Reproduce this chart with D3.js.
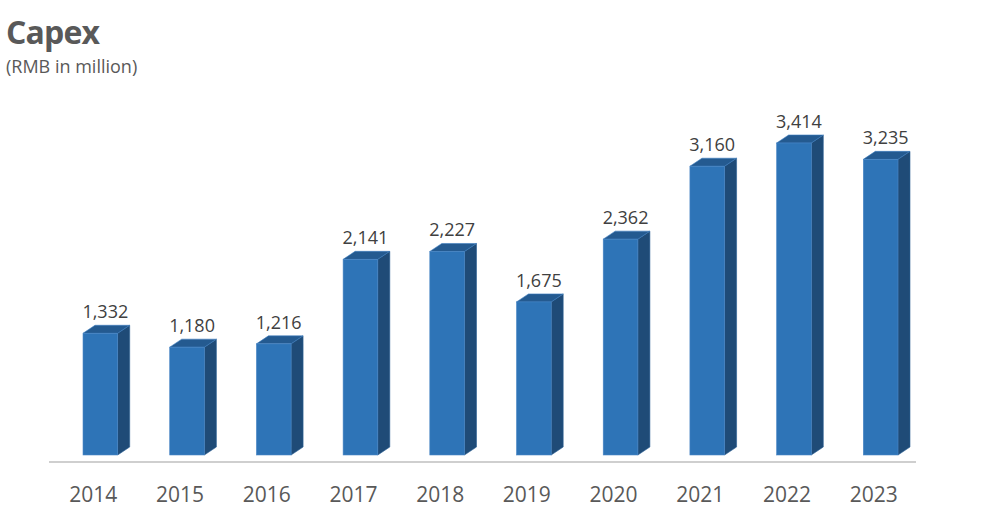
<!DOCTYPE html>
<html>
<head>
<meta charset="utf-8">
<script src="https://cdn.jsdelivr.net/npm/d3@7"></script>
<style>
  body { margin: 0; background: #fff; }
  svg { display: block; font-family: "Open Sans", sans-serif; }
</style>
</head>
<body>
<svg id="chart" width="998" height="525"></svg>
<script>
// data
var years = ["2014", "2015", "2016", "2017", "2018", "2019", "2020", "2021", "2022", "2023"];
var capex = [1332, 1180, 1216, 2141, 2227, 1675, 2362, 3160, 3414, 3235];

var svg = d3.select("#chart");

// title
svg.append("text").attr("x", 6).attr("y", 44)
  .attr("font-size", 32).attr("font-weight", "bold").attr("fill", "#595959")
  .attr("textLength", 94)
  .text("Capex");
svg.append("text").attr("x", 6).attr("y", 73)
  .attr("font-size", 18).attr("fill", "#595959")
  .text("(RMB in million)");

// scales
var x = d3.scaleBand().domain(years).range([49, 916]).padding(0);
var y = d3.scaleLinear().domain([0, 3414]).range([455, 143]);

var bw = x.bandwidth() * 0.4;   // front width
var dx = 12, dy = 8;            // 3d depth
function fx(i) { return x(years[i]) + (x.bandwidth() - bw) / 2 + 8; }

var bars = svg.append("g").selectAll("g")
  .data(capex).enter().append("g");

// side face
bars.append("path")
  .attr("d", function(d, i) {
    var x0 = fx(i) + bw, y0 = y(d), y1 = y(0);
    return "M" + x0 + "," + y0 + "L" + (x0 + dx) + "," + (y0 - dy) +
      "L" + (x0 + dx) + "," + (y1 - dy) + "L" + x0 + "," + y1 + "Z";
  })
  .attr("fill", "#1f4b77").attr("stroke", "#2a5f93").attr("stroke-width", 0.6);

// top face
bars.append("path")
  .attr("d", function(d, i) {
    var x0 = fx(i), y0 = y(d);
    return "M" + x0 + "," + y0 + "L" + (x0 + dx) + "," + (y0 - dy) +
      "L" + (x0 + bw + dx) + "," + (y0 - dy) + "L" + (x0 + bw) + "," + y0 + "Z";
  })
  .attr("fill", "#245a90").attr("stroke", "#3a7cbf").attr("stroke-width", 0.6);

// front face
bars.append("rect")
  .attr("x", function(d, i) { return fx(i); })
  .attr("y", function(d) { return y(d); })
  .attr("width", bw)
  .attr("height", function(d) { return y(0) - y(d); })
  .attr("fill", "#2e74b7").attr("stroke", "#4a86c5").attr("stroke-width", 0.6);

// value labels
bars.append("text")
  .attr("x", function(d, i) { return fx(i) + (bw + dx) / 2 - 1; })
  .attr("y", function(d) { return y(d) - 15; })
  .attr("text-anchor", "middle")
  .attr("font-size", 18).attr("fill", "#404040")
  .text(function(d) { return d3.format(",")(d); });

// axis
svg.append("line")
  .attr("x1", 49).attr("x2", 916).attr("y1", 462).attr("y2", 462)
  .attr("stroke", "#bfbfbf").attr("stroke-width", 1.5);

svg.append("g").selectAll("text")
  .data(years).enter().append("text")
  .attr("x", function(d) { return x(d) + x.bandwidth() / 2 + 1; })
  .attr("y", 502)
  .attr("text-anchor", "middle")
  .attr("font-size", 21).attr("fill", "#595959")
  .text(function(d) { return d; });
</script>
</body>
</html>
